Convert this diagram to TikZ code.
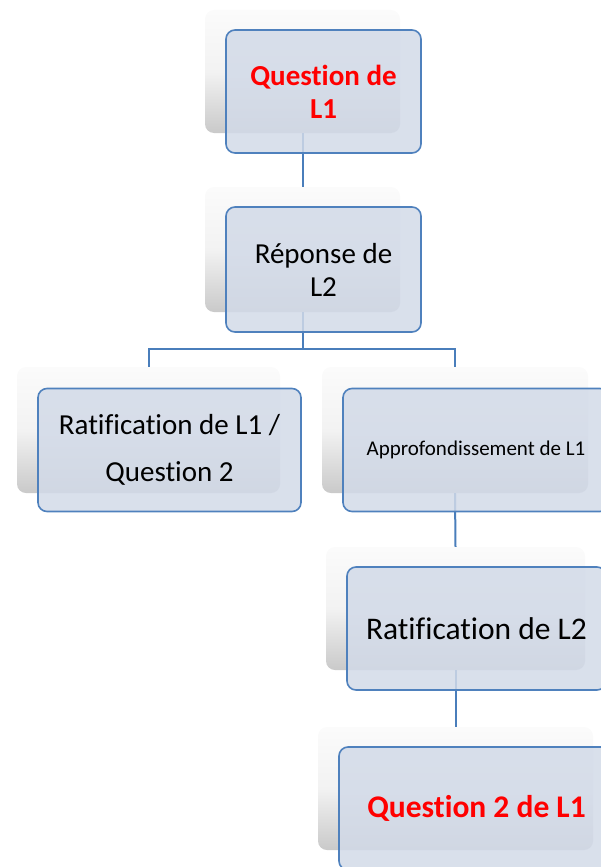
\documentclass[tikz,border=0pt]{standalone}
\usepackage{fontspec}
\setmainfont{Carlito}[Ligatures=NoCommon, RawFeature={-liga;-clig;-calt}]
\definecolor{boxfill}{HTML}{D2DAE8}
\definecolor{boxline}{HTML}{4F81BD}
\definecolor{linkcol}{HTML}{4A7EBB}
\definecolor{qred}{HTML}{FF0000}
\tikzset{
  backbox/.style={rounded corners=9pt, inner sep=0pt, top color=gray!3, bottom color=gray!42, middle color=gray!10},
  frontbox/.style={rounded corners=9pt, inner sep=0pt, draw=boxline, line width=1.6pt, fill=boxfill, fill opacity=0.85, text opacity=1, align=center},
  link/.style={draw=linkcol, line width=2pt},
  big/.style={font=\fontsize{29}{33}\selectfont},
  bigger/.style={font=\fontsize{31.5}{36}\selectfont}
}
\begin{document}
\begin{tikzpicture}[x=1pt,y=-1pt]
       \useasboundingbox (0,0) rectangle (601,867);
       % back boxes of the tree
       \node[backbox, minimum width=195pt, minimum height=123pt] (q1b) at (302.5,71.5) {};
       \node[backbox, minimum width=195pt, minimum height=125pt] (r2b) at (302.5,249.5) {};
       \node[backbox, minimum width=263pt, minimum height=126pt] (rat1b) at (148.5,430) {};
       \node[backbox, minimum width=266pt, minimum height=126pt] (appb) at (455,430) {};
       \node[backbox, minimum width=259pt, minimum height=123pt] (rat2b) at (455.5,608.5) {};
       \node[backbox, minimum width=275pt, minimum height=123pt] (q2b) at (455.5,788.5) {};
       % connectors
       \draw[link] (q1b.south) -- (r2b.north);
       \draw[link] (r2b.south) -- ++(0,37) -| (rat1b.north);
       \draw[link] (r2b.south) -- ++(0,37) -| (appb.north);
       \draw[link] (appb.south) -- (rat2b.north);
       \draw[link] (rat2b.south) -- (q2b.north);
       % front boxes with the texts
       \node[frontbox, big, text=qred, minimum width=195pt, minimum height=123pt] (q1) at ([shift={(21,20)}]q1b.center) {\bfseries Question de\\\bfseries L1};
       \node[frontbox, big, minimum width=195pt, minimum height=125pt] (r2) at ([shift={(21,20)}]r2b.center) {Réponse de\\L2};
       \node[frontbox, font=\fontsize{29}{47}\selectfont, minimum width=263pt, minimum height=123pt] (rat1) at ([shift={(21,20)}]rat1b.center) {Ratification de L1 /\\Question 2};
       \node[frontbox, font=\fontsize{21}{25}\selectfont, minimum width=266pt, minimum height=123pt] (app) at ([shift={(21,20)}]appb.center) {Approfondissement de L1};
       \node[frontbox, bigger, minimum width=259pt, minimum height=123pt] (rat2) at ([shift={(21,20)}]rat2b.center) {Ratification de L2};
       \node[frontbox, bigger, text=qred, minimum width=275pt, minimum height=123pt] (q2) at ([shift={(21,20)}]q2b.center) {\bfseries Question 2 de L1};
\end{tikzpicture}
\end{document}
